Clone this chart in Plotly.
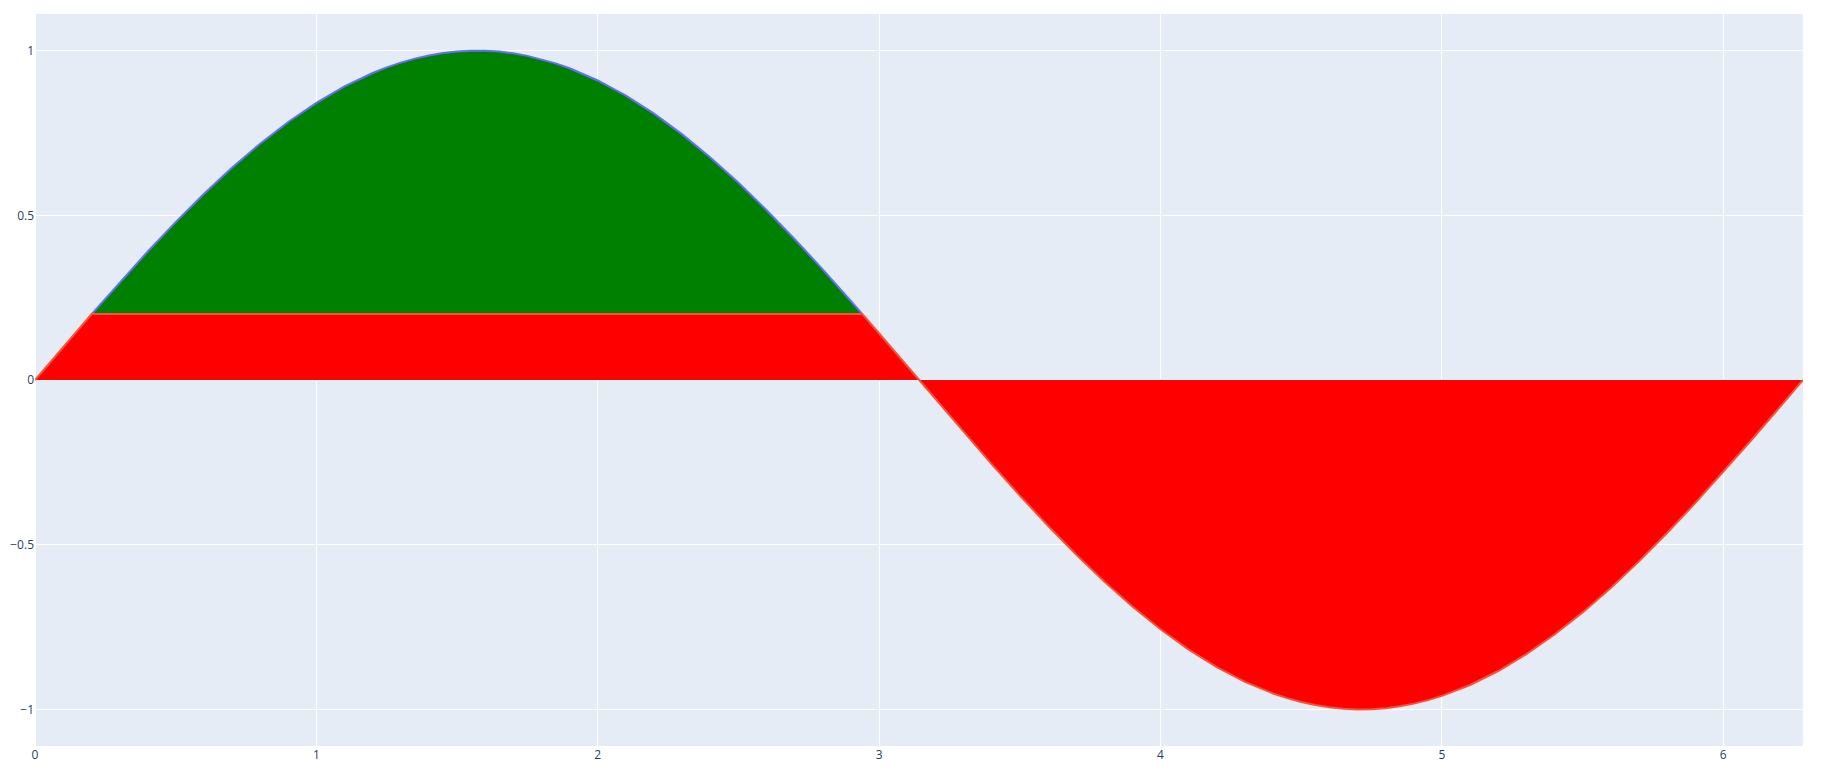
import plotly.graph_objects as go

# Sine curve values (x in radians)
x_vals = [0.0, 0.1, 0.2, 0.2014, 0.3, 0.4, 0.5, 0.6, 0.7, 0.8, 0.9, 1.0, 1.1, 1.2, 1.25, 1.3,
          1.35, 1.4, 1.45, 1.5, 1.55, 1.5708, 1.6, 1.65, 1.7, 1.75, 1.8, 1.85, 1.9, 2.0, 2.1,
          2.2, 2.3, 2.4, 2.5, 2.6, 2.7, 2.8, 2.9, 2.9402, 3.0, 3.1, 3.1416, 3.2, 3.3, 3.4,
          3.5, 3.6, 3.7, 3.8, 3.9, 4.0, 4.1, 4.2, 4.3, 4.4, 4.45, 4.5, 4.55, 4.6, 4.65, 4.7,
          4.75, 4.8, 4.85, 4.9, 4.95, 5.0, 5.1, 5.2, 5.3, 5.4, 5.5, 5.6, 5.7, 5.8, 5.9, 6.0,
          6.1, 6.2, 6.2832]
y_vals = [0.0, 0.0998, 0.1987, 0.2, 0.2955, 0.3894, 0.4794, 0.5646, 0.6442, 0.7174, 0.7833,
          0.8415, 0.8912, 0.9320, 0.9490, 0.9636, 0.9757, 0.9854, 0.9927, 0.9975, 0.9998,
          1.0, 0.9996, 0.9969, 0.9917, 0.9840, 0.9738, 0.9613, 0.9463, 0.9093, 0.8632,
          0.8085, 0.7457, 0.6755, 0.5985, 0.5155, 0.4274, 0.3350, 0.2392, 0.2, 0.1411,
          0.0416, 0.0, -0.0584, -0.1577, -0.2555, -0.3508, -0.4425, -0.5298, -0.6119,
          -0.6878, -0.7568, -0.8183, -0.8716, -0.9162, -0.9516, -0.9658, -0.9775, -0.9868,
          -0.9937, -0.9981, -1.0, -0.9993, -0.9962, -0.9905, -0.9825, -0.9719, -0.9589,
          -0.9258, -0.8835, -0.8323, -0.7728, -0.7055, -0.6313, -0.5507, -0.4646, -0.3739,
          -0.2794, -0.1822, -0.0831, 0.0]
threshold = 0.2

# Points above threshold (green region)
above_x = [xv for xv, yv in zip(x_vals, y_vals) if yv >= threshold]
above_y = [yv for yv in y_vals if yv >= threshold]
# Values clipped at threshold (red region)
below_y = [min(yv, threshold) for yv in y_vals]

fig = go.Figure()
fig.add_trace(go.Scatter(
    x=above_x, y=above_y, mode="lines", fill="tozeroy",
    fillcolor="green", line=dict(color="#636EFA", width=2), showlegend=False,
))
fig.add_trace(go.Scatter(
    x=x_vals, y=below_y, mode="lines", fill="tozeroy",
    fillcolor="red", line=dict(color="#EF553B", width=2), showlegend=False,
))

fig.update_layout(
    template="plotly",
    width=1809, height=768,
    margin=dict(l=27, r=14, t=6, b=30, autoexpand=False),
    showlegend=False,
)
fig.update_xaxes(automargin=False)
fig.update_yaxes(automargin=False)

fig.write_html("out.html")
